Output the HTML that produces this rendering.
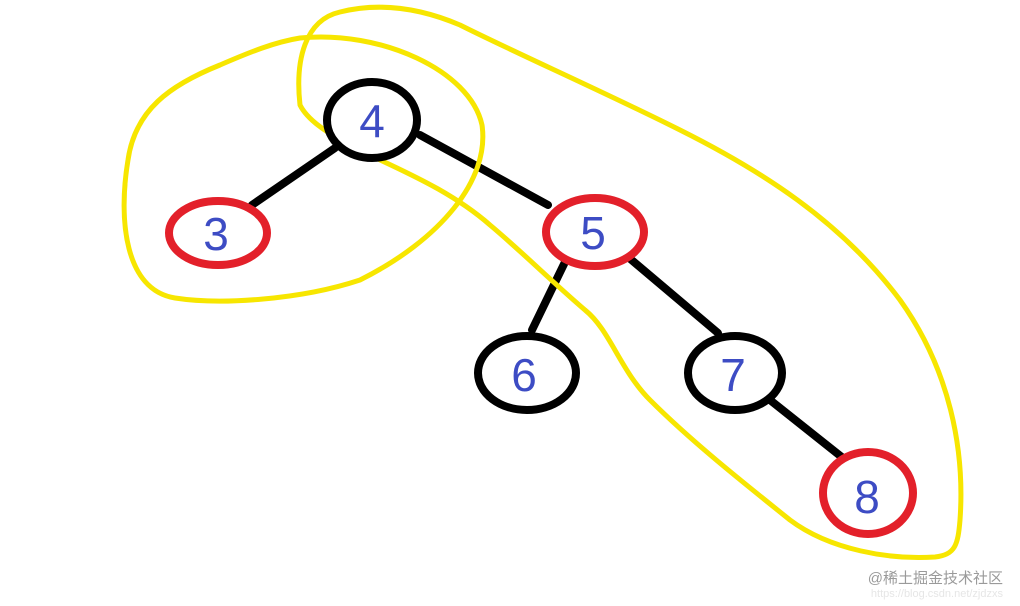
<!DOCTYPE html>
<html><head><meta charset="utf-8"><style>
html,body{margin:0;padding:0;background:#fff;width:1020px;height:606px;overflow:hidden}
svg{display:block}
</style></head><body>
<svg width="1020" height="606" viewBox="0 0 1020 606" xmlns="http://www.w3.org/2000/svg">
<g stroke="#000" stroke-width="8" stroke-linecap="round">
<line x1="335" y1="148" x2="252" y2="205"/>
<line x1="420" y1="135" x2="548" y2="205"/>
<line x1="565" y1="262" x2="532" y2="330"/>
<line x1="628" y1="257" x2="718" y2="333"/>
<line x1="770" y1="400" x2="848" y2="462"/>
</g>
<g fill="none" stroke="#f7e600" stroke-width="5" stroke-linejoin="round">
<path d="M300,38 C380,30 470,70 482,125 C490,180 440,240 360,280 C300,300 220,305 175,298 C125,290 118,220 128,160 C135,110 170,85 220,65 C250,52 275,42 300,38 Z"/>
<path d="M300,105 C295,60 305,20 340,12 C380,2 420,8 460,25 C520,55 600,90 680,130 C760,170 840,220 900,300 C950,370 965,450 960,520 C958,545 955,555 935,557 C890,560 830,550 790,520 C740,480 690,440 650,400 C620,370 610,330 585,310 C550,280 520,250 490,225 C450,190 400,170 370,155 C340,140 310,125 300,105 Z"/>
</g>
<g fill="#fff" stroke-width="8">
<ellipse cx="372" cy="120" rx="45" ry="38" stroke="#000"/>
<ellipse cx="218" cy="233" rx="49" ry="32" stroke="#e3202a"/>
<ellipse cx="595" cy="232" rx="49" ry="34" stroke="#e3202a"/>
<ellipse cx="527" cy="373" rx="49" ry="37" stroke="#000"/>
<ellipse cx="735" cy="373" rx="47" ry="37" stroke="#000"/>
<ellipse cx="868" cy="493" rx="45" ry="41" stroke="#e3202a"/>
</g>
<g fill="#3d4cc4" font-family="Liberation Sans, sans-serif" font-size="46" text-anchor="middle">
<text x="372" y="137">4</text>
<text x="216" y="250">3</text>
<text x="593" y="249">5</text>
<text x="524" y="391">6</text>
<text x="733" y="391">7</text>
<text x="867" y="513">8</text>
</g>
<text x="1003" y="583" text-anchor="end" fill="#9a9a9a" font-size="15" font-family="Liberation Sans, Noto Sans CJK SC, sans-serif">@稀土掘金技术社区</text>
<text x="1003" y="597" text-anchor="end" fill="#e6e6e6" font-size="11" font-family="Liberation Sans, sans-serif">https://blog.csdn.net/zjdzxs</text>
</svg>
</body></html>
